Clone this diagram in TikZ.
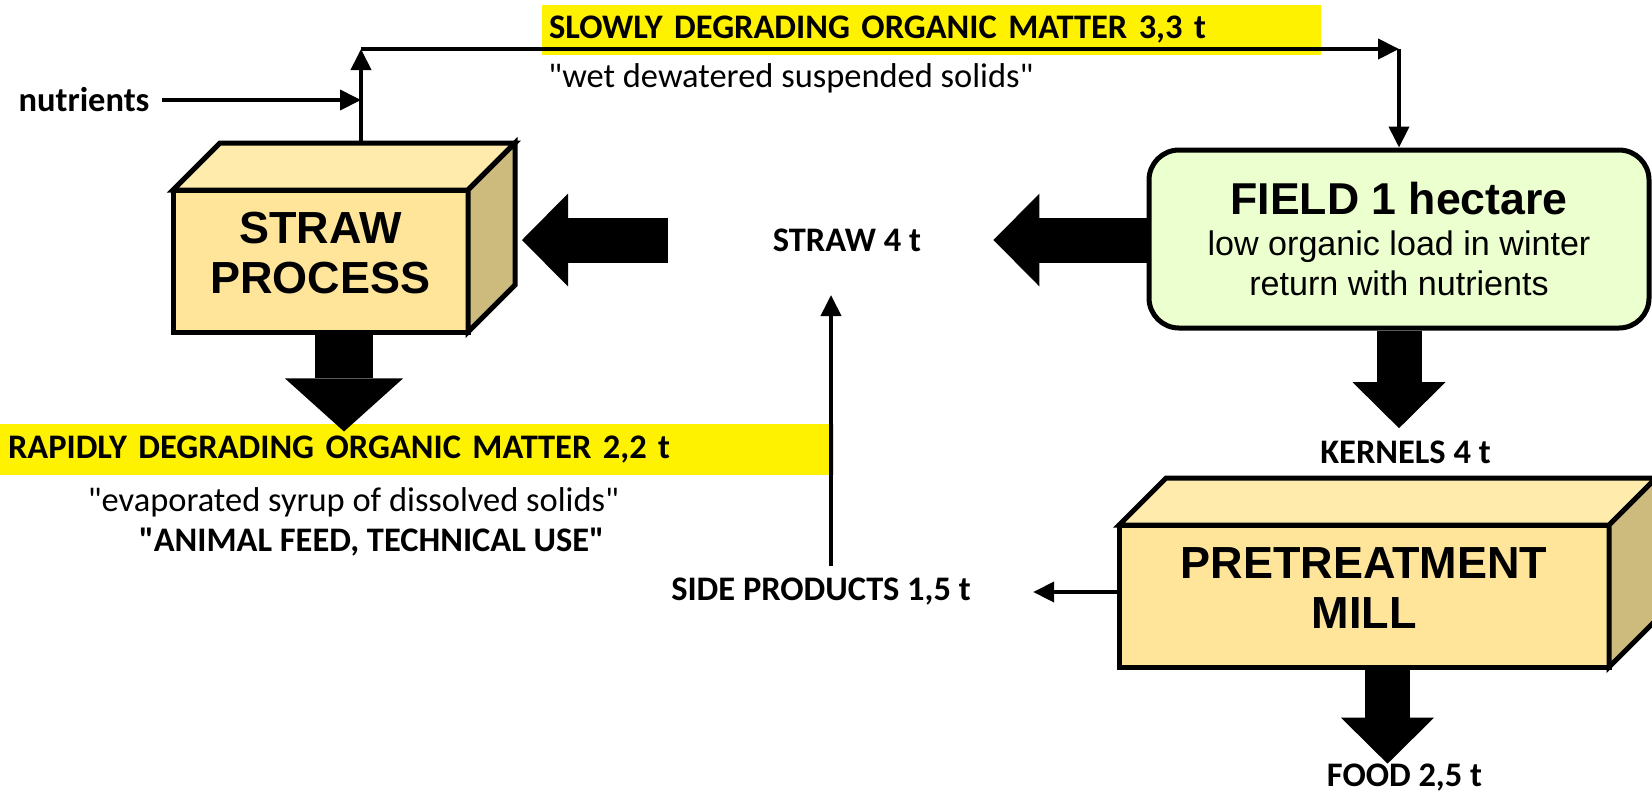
\documentclass[tikz,border=0pt]{standalone}
\usepackage{fontspec}
\setmainfont{Carlito}
\newfontfamily\arialfont{Liberation Sans}
\usetikzlibrary{arrows.meta,calc}

\definecolor{cubefront}{RGB}{255,229,153}
\definecolor{cubetop}{RGB}{255,236,172}
\definecolor{cubeside}{RGB}{205,187,125}
\definecolor{fieldgreen}{RGB}{236,255,206}

% top and side faces of a cube node
\newcommand{\drawcube}[1]{%
  \draw[cubeline, fill=cubetop] (#1.north west) -- ++(0.47,0.47) -- ($(#1.north east)+(0.47,0.47)$) -- (#1.north east) -- cycle;
  \draw[cubeline, fill=cubeside] (#1.north east) -- ++(0.47,0.47) -- ($(#1.south east)+(0.47,0.47)$) -- (#1.south east) -- cycle;
  \coordinate (#1-back) at ($(#1.north)+(0.47,0.47)$);
  \coordinate (#1-mid) at ($(#1.south)+(0.235,0)$);
}

\begin{document}
\begin{tikzpicture}[
        cube/.style={draw, line width=0.05cm, fill=cubefront, outer sep=0pt, align=center, text depth=0.16cm,
            font=\arialfont\bfseries\fontsize{12.8}{14.2}\selectfont},
        cubeline/.style={line width=0.05cm, line join=miter},
        fieldbox/.style={draw, line width=0.05cm, fill=fieldgreen, rounded corners=0.3cm, align=center,
            minimum width=5cm, minimum height=1.78cm, font=\arialfont\fontsize{9.7}{11.4}\selectfont},
        flowtext/.style={font=\bfseries\fontsize{9.8}{11.8}\selectfont},
        subtext/.style={font=\fontsize{9.8}{11.8}\selectfont},
        hilite/.style={fill=yellow, align=left, font=\bfseries\fontsize{9.8}{11.8}\selectfont},
        flow/.style={line width=0.04cm, -{Triangle[length=0.21cm, width=0.2cm]}},
        fat/.style={line width=0.45cm, -{Triangle[length=0.46cm, width=0.93cm, line width=0pt]}},
        fatbig/.style={line width=0.58cm, -{Triangle[length=0.53cm, width=1.18cm, line width=0pt]}}
    ]
    \useasboundingbox (0,0) rectangle (16.52,-7.96);
    % Highlights
    \node[hilite, text width=7.65cm, inner xsep=0.07cm, minimum height=0.46cm] (slow) at (9.315,-0.30) {SLOWLY DEGRADING ORGANIC MATTER 3,3 t};
    \node[hilite, text width=8.18cm, inner xsep=0.08cm, minimum height=0.49cm] (rapid) at (4.17,-4.495) {RAPIDLY DEGRADING ORGANIC MATTER 2,2 t};
    % Boxes
    \node[cube, minimum width=2.95cm, minimum height=1.42cm] (straw) at (3.205,-2.61) {STRAW\\PROCESS};
    \drawcube{straw}
    \node[cube, minimum width=4.9cm, minimum height=1.42cm] (mill) at (13.64,-5.96) {PRETREATMENT\\MILL};
    \drawcube{mill}
    \node[fieldbox] (field) at (13.99,-2.39) {{\bfseries\fontsize{12.7}{14}\selectfont FIELD 1 hectare}\\low organic load in winter\\return with nutrients};
    % Labels
    \node[flowtext] (nutr) at (0.84,-1.00) {nutrients};
    \node[subtext] (wet) at (7.91,-0.78) {\textquotedbl wet dewatered suspended solids\textquotedbl};
    \node[subtext] (syrup) at (3.535,-5.02) {\textquotedbl evaporated syrup of dissolved solids\textquotedbl};
    \node[flowtext] (feed) at (3.715,-5.42) {\textquotedbl ANIMAL FEED, TECHNICAL USE\textquotedbl};
    \node[flowtext] (straw4) at (8.47,-2.40) {STRAW 4 t};
    \node[flowtext] (side) at (8.21,-5.92) {SIDE PRODUCTS 1,5 t};
    \node[flowtext] (kernels) at (14.055,-4.52) {KERNELS 4 t};
    \node[flowtext, inner ysep=0pt] (food) at (14.045,-7.78) {FOOD 2,5 t};
    % Free ends
    \coordinate (up) at (3.61,-0.49);
    \coordinate (down) at (field.north |- up);
    \coordinate (strawup) at (8.31,-2.95);
    % Thin arrows
    \draw[flow] (nutr.east) -- (nutr.east -| up);
    \draw[flow] (up |- straw-back) -- (up);
    \draw[flow] (up) -- (down);
    \draw[flow] (down) -- (field.north);
    \draw[flow] (side.north -| strawup) -- (strawup);
    \draw[flow] (side.east -| mill.west) -- ($(side.east)+(0.5,0)$);
    % Fat arrows
    \draw[fat] (straw4.east -| field.west) -- ($(straw4.east)+(0.6,0)$);
    \draw[fat] ($(straw4.west)+(-0.925,0)$) -- ($(straw4.west -| straw.east)+(0.54,0)$);
    \draw[fatbig] (straw-mid) -- ($(straw-mid |- rapid.north)+(0,-0.08)$);
    \draw[fat] (field.south) -- (field.south |- kernels.north);
    \draw[fat] (mill-mid) -- (mill-mid |- food.north);
\end{tikzpicture}
\end{document}
